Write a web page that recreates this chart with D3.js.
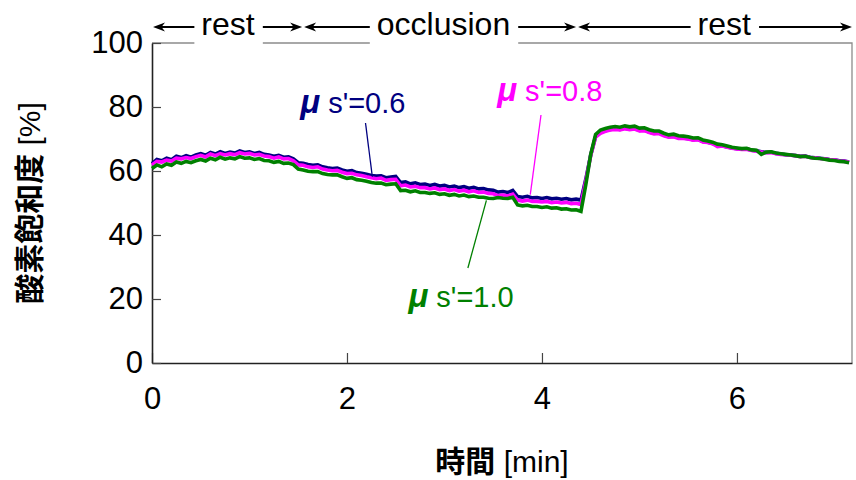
<!DOCTYPE html>
<html><head><meta charset="utf-8">
<script src="https://cdn.jsdelivr.net/npm/d3@7"></script>
<style>body{margin:0;background:#fff} svg{display:block}</style>
</head><body><svg id="c" width="856" height="480"></svg>
<script>
// Sample step of the recorded traces (minutes)
const sampleStep = 0.05;
// μs'=0.6 (navy)
const blue = [
62.3,63.6,63.2,64.0,63.5,64.6,64.2,64.8,64.3,65.0,
65.4,64.9,65.8,65.3,66.0,65.5,65.9,65.6,66.3,65.8,
66.0,65.5,65.8,65.2,65.0,64.6,64.9,64.3,64.4,63.8,
62.6,62.4,62.0,61.8,61.9,61.3,61.0,60.8,60.9,60.3,
59.9,60.1,59.5,59.3,59.0,58.6,58.4,58.5,57.9,58.1,
58.3,56.4,56.6,56.0,56.3,55.8,55.9,55.5,55.8,55.3,
55.5,55.0,55.3,54.8,55.1,54.6,54.9,54.4,54.5,54.1,
54.0,53.4,53.6,53.3,53.9,52.0,51.8,52.1,51.6,51.7,
51.4,51.7,51.3,51.5,51.2,51.4,51.0,51.2,50.9,57.5,
65.0,70.8,72.0,72.6,73.0,73.2,73.0,73.4,73.1,73.3,
72.7,72.8,72.2,71.8,71.9,71.2,70.7,70.9,70.4,70.3,
70.1,69.8,69.9,69.2,69.0,68.6,68.1,67.9,67.5,67.2,
67.0,66.8,66.9,66.5,66.3,66.0,65.8,65.9,65.5,65.3,
65.1,65.0,64.8,64.6,64.7,64.3,64.1,64.0,63.8,63.6,
63.5,63.2,63.1,62.8];
// μs'=0.8 (magenta)
const magenta = [
61.9,63.0,62.8,63.4,63.1,64.0,63.8,64.2,63.9,64.5,
64.9,64.4,65.3,64.8,65.4,65.0,65.4,65.1,65.7,65.3,
65.5,65.0,65.2,64.7,64.5,64.0,64.4,63.8,63.9,63.2,
61.9,61.8,61.3,61.1,61.3,60.6,60.3,60.1,60.2,59.6,
59.2,59.3,58.8,58.6,58.2,57.9,57.6,57.8,57.1,57.3,
57.4,55.4,55.6,55.0,55.2,54.8,54.8,54.4,54.7,54.2,
54.4,53.9,54.2,53.7,54.0,53.5,53.8,53.3,53.4,53.0,
52.9,52.3,52.5,52.2,52.8,50.9,50.6,50.9,50.5,50.5,
50.3,50.5,50.1,50.3,50.0,50.2,49.8,49.9,49.5,57.0,
64.8,70.6,71.8,72.4,72.8,73.0,72.8,73.2,72.9,73.1,
72.5,72.6,72.0,71.6,71.7,71.0,70.6,70.7,70.2,70.2,
70.0,69.6,69.8,69.1,68.9,68.5,67.6,67.8,67.4,67.1,
66.9,66.7,66.8,66.4,66.2,65.9,65.7,65.8,65.4,65.2,
65.1,64.9,64.8,64.5,64.6,64.2,64.1,63.9,63.8,63.5,
63.5,63.1,63.0,62.8];
// μs'=1.0 (green)
const green = [
60.8,61.9,61.3,62.2,61.8,62.8,62.4,63.0,62.6,63.2,
63.6,63.1,64.0,63.5,64.3,63.7,64.1,63.8,64.5,64.0,
64.1,63.6,63.9,63.3,63.2,62.7,63.0,62.4,62.5,62.0,
60.6,60.3,59.9,59.8,59.8,59.2,58.9,58.8,58.8,58.2,
57.7,57.9,57.3,57.1,56.8,56.4,56.2,56.2,55.7,55.9,
56.0,53.9,54.0,53.5,53.8,53.3,53.3,53.0,53.2,52.7,
52.9,52.4,52.7,52.2,52.5,52.0,52.2,51.8,51.8,51.5,
51.4,51.7,51.5,51.4,51.8,49.4,49.1,49.3,48.9,48.9,
48.6,48.8,48.4,48.5,48.1,48.2,47.8,47.9,47.4,55.8,
65.2,71.4,72.8,73.3,73.7,73.9,73.7,74.1,73.8,74.0,
73.4,73.5,72.9,72.5,72.5,71.8,71.3,71.5,71.0,70.9,
70.7,70.3,70.4,69.7,69.4,69.0,68.4,68.2,67.8,67.4,
67.2,67.0,67.1,66.6,66.5,65.2,65.9,66.0,65.6,65.4,
65.2,65.0,64.8,64.5,64.6,64.2,64.0,63.9,63.7,63.4,
63.3,63.0,62.9,62.6];

const seriesLabels = ["s'=0.6", "s'=0.8", "s'=1.0"];
const seriesColors = ["#000080", "#ff00ff", "#008000"];
// label anchor [time, value] and leader line [[t1,v1],[t2,v2]]
const labelPos = [[1.52, 78.0], [3.54, 81.8], [2.63, 17.4]];
const leaders = [[[2.19, 75.0], [2.26, 58.2]], [[3.99, 77.5], [3.88, 52.6]], [[3.24, 29.7], [3.43, 50.8]]];

const xTicks = [0, 2, 4, 6];
const yTicks = [0, 20, 40, 60, 80, 100];
const phaseLabels = ["rest", "occlusion", "rest"];
const phaseBounds = [0, 1.55, 4.36, 7.19];
const phaseCenters = [0.78, 2.99, 5.87];
const xTitle = "[min]", xTitleCJK = "時間";
const yTitle = "[%]", yTitleCJK = "酸素飽和度";

const svg = d3.select("#c");
const x = d3.scaleLinear().domain([0, 7.18]).range([152, 852]);
const y = d3.scaleLinear().domain([0, 100]).range([363, 43]);
const font = "'Liberation Sans', Arial, sans-serif";
const cjk = "'Noto Sans CJK JP', sans-serif";

// plot frame (top/right in gray)
svg.append("path")
  .attr("d", `M${x(0)},${y(100)}H${x(7.18)}V${y(0)}`)
  .attr("fill", "none").attr("stroke", "#8c8c8c").attr("stroke-width", 1.3);

// axes
const xAxis = svg.append("g").attr("transform", `translate(0,${y(0)})`)
  .call(d3.axisBottom(x).tickValues(xTicks).tickSize(-10).tickSizeOuter(0).tickPadding(24).tickFormat(d3.format("d")));
const yAxis = svg.append("g").attr("transform", `translate(${x(0)},0)`)
  .call(d3.axisLeft(y).tickValues(yTicks).tickSize(-9).tickSizeOuter(0).tickPadding(9).tickFormat(d3.format("d")));
[xAxis, yAxis].forEach(g => {
  g.select(".domain").attr("stroke", "#222").attr("stroke-width", 1.6);
  g.selectAll(".tick line").attr("stroke", "#444").attr("stroke-width", 1.2);
  g.selectAll(".tick text").attr("font-family", font).attr("font-size", 31).attr("fill", "#000");
});

// series
const times = d3.range(blue.length).map(i => i * sampleStep);
const line = d3.line().x((d, i) => x(times[i])).y(d => y(d));
[blue, magenta, green].forEach((s, k) => {
  svg.append("path").datum(s).attr("d", line)
    .attr("fill", "none").attr("stroke", seriesColors[k])
    .attr("stroke-width", 3.6).attr("stroke-linejoin", "miter");
});

// leader lines + labels
leaders.forEach((l, k) => {
  svg.append("line")
    .attr("x1", x(l[0][0])).attr("y1", y(l[0][1]))
    .attr("x2", x(l[1][0])).attr("y2", y(l[1][1]))
    .attr("stroke", seriesColors[k]).attr("stroke-width", 1.3);
});
labelPos.forEach((p, k) => {
  const t = svg.append("text").attr("x", x(p[0])).attr("y", y(p[1]))
    .attr("font-family", font).attr("font-size", 29).attr("fill", seriesColors[k]);
  t.append("tspan").attr("font-style", "italic").attr("font-weight", "bold")
    .attr("font-size", 33).text("μ");
  t.append("tspan").text(" " + seriesLabels[k]);
});

// phase annotation
const ay = 27;
function arrowHead(tx, dir) {
  return `M${tx},${ay}L${tx + dir * 12},${ay - 4.5}L${tx + dir * 8.5},${ay}L${tx + dir * 12},${ay + 4.5}Z`;
}
phaseLabels.forEach((lab, k) => {
  const cx = x(phaseCenters[k]);
  const g = svg.append("g");
  const bg = g.append("rect").attr("fill", "#fff");
  const t = g.append("text").attr("x", cx).attr("y", 35).attr("text-anchor", "middle")
    .attr("font-family", font).attr("font-size", 32).attr("fill", "#000").text(lab);
  const bb = t.node().getBBox();
  const l0 = bb.x - 7, l1 = bb.x + bb.width + 8;
  if (k < 2) bg.attr("x", l0).attr("y", 0).attr("width", l1 - l0).attr("height", y(100) + 2);
  const xs = x(phaseBounds[k]) + 1, xe = x(phaseBounds[k + 1]) - 1;
  g.append("line").attr("x1", xs + 6).attr("x2", l0).attr("y1", ay).attr("y2", ay).attr("stroke", "#000").attr("stroke-width", 2);
  g.append("line").attr("x1", l1).attr("x2", xe - 6).attr("y1", ay).attr("y2", ay).attr("stroke", "#000").attr("stroke-width", 2);
  g.append("path").attr("d", arrowHead(xs, 1)).attr("fill", "#000");
  g.append("path").attr("d", arrowHead(xe, -1)).attr("fill", "#000");
});

// axis titles
const xt = svg.append("text").attr("x", (x(0) + x(7.18)) / 2).attr("y", 472)
  .attr("text-anchor", "middle").attr("font-size", 30).attr("fill", "#000");
xt.append("tspan").attr("font-family", cjk).attr("font-weight", "bold").text(xTitleCJK);
xt.append("tspan").attr("font-family", font).text(" " + xTitle);
const yt = svg.append("text").attr("transform", `translate(40,${(y(0) + y(100)) / 2}) rotate(-90)`)
  .attr("text-anchor", "middle").attr("font-size", 30).attr("fill", "#000");
yt.append("tspan").attr("font-family", cjk).attr("font-weight", "bold").text(yTitleCJK);
yt.append("tspan").attr("font-family", font).text(" " + yTitle);
</script></body></html>
